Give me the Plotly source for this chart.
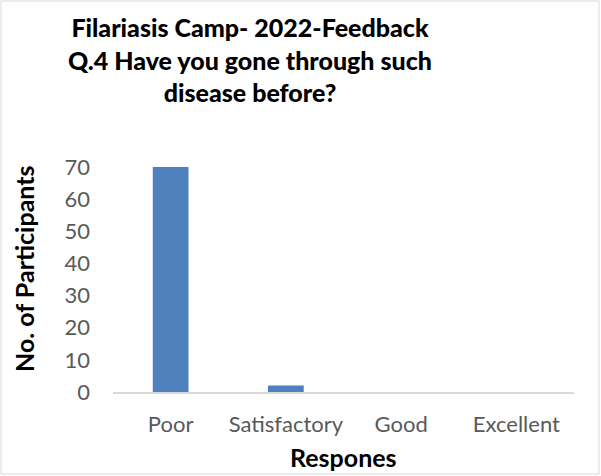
import plotly.graph_objects as go

# Survey responses
categories = ["Poor", "Satisfactory", "Good", "Excellent"]
participants = [70, 2, 0, 0]
y_ticks = [0, 10, 20, 30, 40, 50, 60, 70]

W, H = 601, 476
L, R, T, B = 113, 27, 167, 84
pw, ph = W - L - R, H - T - B

FONT = "Lato"
GREY = "#595959"

fig = go.Figure(
    go.Bar(
        x=categories,
        y=participants,
        marker=dict(color="#4f81bd", line=dict(width=0)),
        width=0.31,
    )
)

fig.update_layout(
    width=W,
    height=H,
    margin=dict(l=L, r=R, t=T, b=B),
    paper_bgcolor="white",
    plot_bgcolor="white",
    showlegend=False,
    font=dict(family=FONT, color=GREY),
    title=dict(
        text="Filariasis Camp- 2022-Feedback<br>Q.4 Have you gone through such<br>disease before?",
        font=dict(family=FONT, size=25, color="black", weight=900),
        x=250 / W,
        xanchor="center",
        xref="container",
        y=1 - 37 / H,
        yanchor="middle",
        yref="container",
    ),
    xaxis=dict(
        showline=True,
        linecolor="#d9d9d9",
        linewidth=1.5,
        showgrid=False,
        ticks="",
        tickfont=dict(family=FONT, size=22, color=GREY),
        ticklabelstandoff=12,
    ),
    yaxis=dict(
        range=[0, 70],
        tickvals=y_ticks,
        showgrid=False,
        showline=False,
        zeroline=False,
        ticks="",
        tickfont=dict(family=FONT, size=22, color=GREY),
        ticklabelstandoff=22,
    ),
    annotations=[
        dict(
            text="<b>Respones</b>",
            xref="paper", yref="paper",
            x=0.5, y=-(457 - (H - B)) / ph,
            xanchor="center", yanchor="middle",
            showarrow=False,
            font=dict(family=FONT, size=25, color="black"),
        ),
        dict(
            text="<b>No. of Participants</b>",
            xref="paper", yref="paper",
            x=-(L - 24) / pw, y=((H - B) - 269) / ph,
            xanchor="center", yanchor="middle",
            textangle=-90,
            showarrow=False,
            font=dict(family=FONT, size=25, color="black"),
        ),
    ],
    shapes=[
        dict(
            type="rect",
            xref="paper", yref="paper",
            x0=(1 - L) / pw, x1=(599 - L) / pw,
            y0=-(474 - (H - B)) / ph, y1=((H - B) - 1) / ph,
            line=dict(color="#d9d9d9", width=1),
            fillcolor="rgba(0,0,0,0)",
            layer="below",
        )
    ],
)

fig.write_html("out.html")
